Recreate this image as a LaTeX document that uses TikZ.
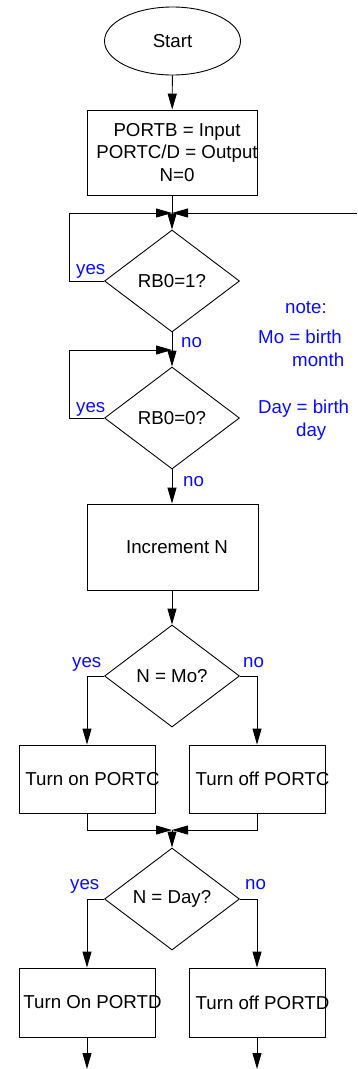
\documentclass[tikz,border=0pt]{standalone}
\usepackage{fontspec}
\setmainfont{Liberation Sans}
\usetikzlibrary{shapes.geometric,arrows.meta}
\definecolor{lbl}{RGB}{10,10,255}
\tikzset{
  x=1pt, y=1pt,
  every node/.style={font=\fontsize{18.7}{22.5}\selectfont},
  line/.style={draw=black, line width=0.9pt},
  flow/.style={line, -{Triangle[length=16pt,width=9pt]}},
  boxshape/.style={draw, line width=0.9pt, rectangle, inner sep=0pt},
  decide/.style={draw, line width=0.9pt, diamond, inner sep=0pt,
    minimum width=135pt, minimum height=102pt},
  btext/.style={inner sep=0pt, align=center},
  tag/.style={text=lbl, inner sep=0pt, anchor=base west},
}
\begin{document}
\begin{tikzpicture}
\useasboundingbox (0,0) rectangle (357,-1069);

% start
\node[draw, line width=0.9pt, ellipse, minimum width=136pt, minimum height=68pt, inner sep=0pt]
  (start) at (172.5,-41) {Start};

% initialisation
\node[boxshape, minimum width=170pt, minimum height=85pt] (init) at (172,-152.5) {};
\node[btext] (initt) at (177,-152.5) {PORTB = Input\\PORTC/D = Output\\N=0};

% wait for RB0 high, then low
\coordinate (m1) at (172,-213);
\coordinate (r1) at (357,-213);
\node[decide] (d1) at (172,-281) {RB0=1?};
\coordinate (m2) at (172,-350);
\node[decide] (d2) at (172,-418) {RB0=0?};

% counter
\node[boxshape, minimum width=171pt, minimum height=86pt] (inc) at (172.5,-547) {};
\node[btext] (inct) at (177,-547) {Increment N};

% month test
\node[decide] (d3) at (172,-676) {N = Mo?};
\node[boxshape, minimum width=136pt, minimum height=68pt] (c1) at (87,-779) {};
\node[btext] (c1t) at (92.5,-779) {Turn on PORTC};
\node[boxshape, minimum width=136pt, minimum height=68pt] (c2) at (257,-779) {};
\node[btext] (c2t) at (262.5,-779) {Turn off PORTC};
\coordinate (m3) at (172,-830);

% day test
\node[decide] (d4) at (172,-899) {N = Day?};
\node[boxshape, minimum width=136pt, minimum height=69pt] (e1) at (87,-1002.5) {};
\node[btext] (e1t) at (92.5,-1002.5) {Turn On PORTD};
\node[boxshape, minimum width=136pt, minimum height=69pt] (e2) at (257,-1002.5) {};
\node[btext] (e2t) at (262.5,-1002.5) {Turn off PORTD};
\coordinate (o1) at (87,-1069);
\coordinate (o2) at (257,-1069);

% connectors
\draw[flow] (start) -- (init);
\draw[line] (init) -- (m1);
\draw[flow] (m1) -- (d1.north);
\draw[flow] (d1.west) -- ++(-35,0) |- (m1);
\draw[flow] (r1) -- (m1);
\draw[line] (d1.south) -- (m2);
\draw[flow] (m2) -- (d2.north);
\draw[flow] (d2.west) -- ++(-35,0) |- (m2);
\draw[flow] (d2.south) -- (inc.north -| d2.south);
\draw[flow] (inc.south -| d3.north) -- (d3.north);
\draw[flow] (d3.west) -| (c1.north);
\draw[flow] (d3.east) -| (c2.north);
\draw[flow] (c1.south) |- (m3);
\draw[flow] (c2.south) |- (m3);
\draw[flow] (m3) -- (d4.north);
\draw[flow] (d4.west) -| (e1.north);
\draw[flow] (d4.east) -| (e2.north);
\draw[flow] (e1.south) -- (o1);
\draw[flow] (e2.south) -- (o2);

% branch labels
\node[tag] (y1) at (76,-274) {yes};
\node[tag] (n1) at (181,-347) {no};
\node[tag] (y2) at (76,-412) {yes};
\node[tag] (n2) at (183,-486) {no};
\node[tag] (y3) at (72,-667) {yes};
\node[tag] (n3) at (243,-667) {no};
\node[tag] (y4) at (70,-889) {yes};
\node[tag] (n4) at (245,-889) {no};

% note
\node[tag] (nt0) at (285,-313) {note:};
\node[tag] (nt1) at (258,-343) {Mo = birth};
\node[tag] (nt2) at (292,-366) {month};
\node[tag] (nt3) at (258,-413) {Day = birth};
\node[tag] (nt4) at (296,-436) {day};
\end{tikzpicture}
\end{document}
